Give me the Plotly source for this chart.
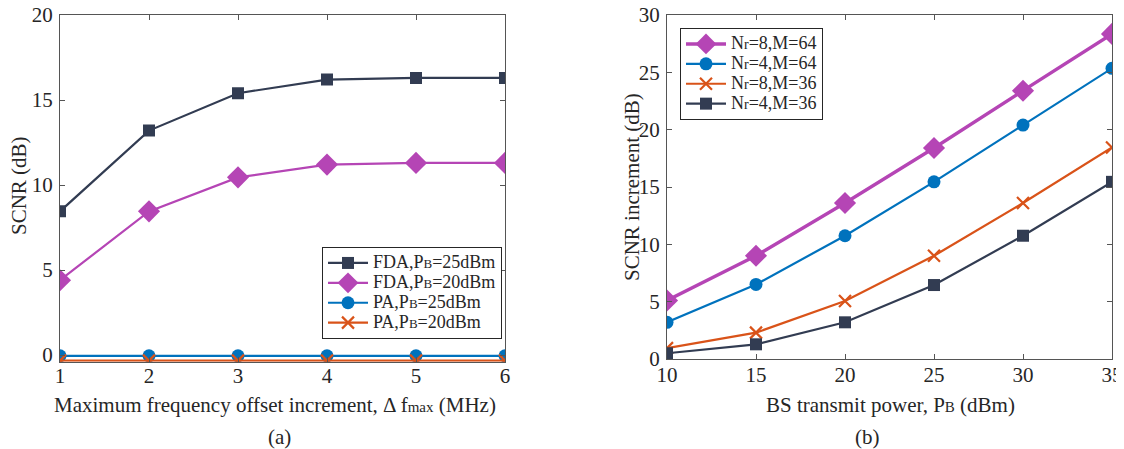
import plotly.graph_objects as go

# ---- data (a) ----
x_a = [1, 2, 3, 4, 5, 6]
fda_25 = [8.45, 13.2, 15.4, 16.2, 16.3, 16.3]
fda_20 = [4.4, 8.45, 10.45, 11.2, 11.3, 11.3]
pa_25 = [-0.05, -0.05, -0.05, -0.05, -0.05, -0.05]
pa_20 = [-0.33, -0.33, -0.33, -0.33, -0.33, -0.33]
SB = "<span style='font-size:13px'>B</span>"
SR = "<span style='font-size:14px'>r</span>"
names_a = ["FDA,P" + SB + "=25dBm", "FDA,P" + SB + "=20dBm",
           "PA,P" + SB + "=25dBm", "PA,P" + SB + "=20dBm"]

# ---- data (b) ----
x_b = [10, 15, 20, 25, 30, 35]
nr8_m64 = [5.1, 9.0, 13.6, 18.4, 23.4, 28.35]
nr4_m64 = [3.2, 6.5, 10.75, 15.45, 20.4, 25.35]
nr8_m36 = [0.95, 2.3, 5.05, 9.0, 13.6, 18.45]
nr4_m36 = [0.5, 1.28, 3.2, 6.45, 10.75, 15.45]
names_b = ["N" + SR + "=8,M=64", "N" + SR + "=4,M=64",
           "N" + SR + "=8,M=36", "N" + SR + "=4,M=36"]

DARK = "#323c52"
PURPLE = "#b545b5"
BLUE = "#0072bd"
ORANGE = "#d95319"
FONT = "Liberation Serif"
TXT = "#262626"

# page has an 8px body margin: the figure starts at (8, 8)
OFF = 8
W, H = 1124 - OFF, 449 - OFF
def px(x):
    return (x - OFF) / W
def py(y):
    return (H - (y - OFF)) / H

def big(s):
    return "<span style='font-size:18px'>" + s + "</span>"

fig = go.Figure()

def add(x, y, name, color, symbol, size, lw, xa, ya, leg):
    marker = dict(symbol=symbol, size=size, color=color)
    if symbol == "x-thin":
        marker["line"] = dict(color=color, width=2.2)
    fig.add_trace(go.Scatter(x=x, y=y, name=big(name), mode="lines+markers",
                             line=dict(color=color, width=lw), marker=marker,
                             xaxis=xa, yaxis=ya, legend=leg))

# (a)
add(x_a, fda_25, names_a[0], DARK, "square", 12, 2.2, "x", "y", "legend")
add(x_a, fda_20, names_a[1], PURPLE, "diamond", 17, 2.2, "x", "y", "legend")
add(x_a, pa_25, names_a[2], BLUE, "circle", 13, 2.2, "x", "y", "legend")
add(x_a, pa_20, names_a[3], ORANGE, "x-thin", 12, 2.2, "x", "y", "legend")

# (b)
add(x_b, nr8_m64, names_b[0], PURPLE, "diamond", 17, 3.4, "x2", "y2", "legend2")
add(x_b, nr4_m64, names_b[1], BLUE, "circle", 13, 2.2, "x2", "y2", "legend2")
add(x_b, nr8_m36, names_b[2], ORANGE, "x-thin", 12, 2.2, "x2", "y2", "legend2")
add(x_b, nr4_m36, names_b[3], DARK, "square", 12, 2.2, "x2", "y2", "legend2")

axis_common = dict(showline=True, linecolor="#555555", linewidth=1, mirror="ticks",
                   ticks="inside", ticklen=5, tickcolor="#555555", showgrid=False,
                   zeroline=False, automargin=False, ticklabeloverflow="allow",
                   tickfont=dict(family=FONT, size=21, color=TXT))

legend_common = dict(xanchor="left", bgcolor="white", bordercolor=TXT, borderwidth=1,
                     font=dict(family=FONT, size=13, color=TXT),
                     tracegroupgap=0, itemwidth=40)

fig.update_layout(
    width=W, height=H, margin=dict(l=0, r=0, t=0, b=0, autoexpand=False),
    paper_bgcolor="white", plot_bgcolor="white",
    font=dict(family=FONT, size=20, color=TXT),
    xaxis=dict(domain=[px(60), px(505)], range=[1, 6], tickvals=x_a,
               anchor="y", ticklabelstandoff=-5, **axis_common),
    yaxis=dict(domain=[py(361.8), py(15)], range=[-0.4, 20], tickvals=[0, 5, 10, 15, 20],
               anchor="x", ticklabelstandoff=2, **axis_common),
    xaxis2=dict(domain=[px(667), px(1112)], range=[10, 35], tickvals=x_b,
                anchor="y2", ticklabelstandoff=-3, **axis_common),
    yaxis2=dict(domain=[py(359), py(15)], range=[0, 30], tickvals=[0, 5, 10, 15, 20, 25, 30],
                anchor="x2", ticklabelstandoff=2, **axis_common),
    legend=dict(x=px(322), y=py(339), yanchor="bottom", **legend_common),
    legend2=dict(x=px(680), y=py(28), yanchor="top", **legend_common),
    showlegend=True,
)

ann = [
    dict(text="SCNR (dB)", x=px(19), y=py(186), textangle=-90),
    dict(text="Maximum frequency offset increment, Δ f<span style='font-size:15px'>max</span> (MHz)",
         x=px(275), y=py(405)),
    dict(text="(a)", x=px(279), y=py(437)),
    dict(text="SCNR increment (dB)", x=px(632), y=py(187), textangle=-90),
    dict(text="BS transmit power, P<span style='font-size:15px'>B</span> (dBm)", x=px(890), y=py(405)),
    dict(text="(b)", x=px(868), y=py(437)),
]
for a in ann:
    fig.add_annotation(xref="paper", yref="paper", showarrow=False,
                       xanchor="center", yanchor="middle",
                       font=dict(family=FONT, size=21, color=TXT), **a)

fig.write_html("out.html")
